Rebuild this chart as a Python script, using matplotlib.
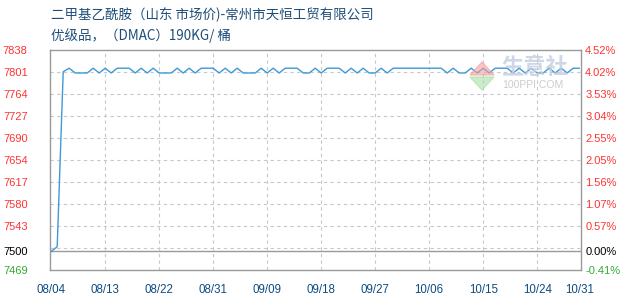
import matplotlib

matplotlib.use("Agg")
import matplotlib.pyplot as plt
import numpy as np

# daily price, 08/04 .. 10/31 (yuan/ton)
HI, LO = 7807, 7799
prices = [7500, 7508, 7801,
          HI, LO, LO, LO, HI, LO, HI, LO, HI, HI, HI, LO, HI, LO, HI, LO, LO, LO,
          HI, LO, HI, LO, HI, HI, HI, LO, HI, LO, HI, LO, LO, LO, HI, LO, HI, LO,
          HI, HI, HI, LO, LO, HI, LO, HI, HI, HI, LO, HI, LO, HI, LO, LO, HI, LO,
          HI, HI, HI, HI, HI, HI, HI, HI, HI, LO, HI, LO, LO, HI, LO, HI, LO, HI,
          HI, HI, LO, HI, LO, HI, LO, LO, HI, LO, HI, LO, HI, HI]

date_labels = ["08/04", "08/13", "08/22", "08/31", "09/09", "09/18",
               "09/27", "10/06", "10/15", "10/24", "10/31"]
date_idx = [0, 9, 18, 27, 36, 45, 54, 63, 72, 81, 88]

y_labels = ["7838", "7801", "7764", "7727", "7690", "7654", "7617", "7580", "7543", "7500", "7469"]
pct_labels = ["4.52%", "4.02%", "3.53%", "3.04%", "2.55%", "2.05%", "1.56%", "1.07%", "0.57%", "0.00%", "-0.41%"]
label_colors = ["#ff3333"] * 9 + ["#000000", "#33aa33"]

Y_MIN, Y_MAX, BASE = 7469, 7838, 7500

title1 = "二甲基乙酰胺（山东 市场价)-常州市天恒工贸有限公司"
title2 = "优级品，（DMAC）190KG/ 桶"

cjk = ["Noto Sans CJK SC", "DejaVu Sans"]
num_font = "Liberation Sans"

fig = plt.figure(figsize=(6.3, 3.0), dpi=100)
ax = fig.add_axes([50 / 630, 30 / 300, 531 / 630, 220.3 / 300])

x = np.arange(len(prices))
ax.plot(x, prices, color="#3d9ad6", lw=1.0, zorder=3)

ax.set_xlim(-0.2, 88.3)
ax.set_ylim(Y_MIN, Y_MAX)

# dashed grid
grid_y = np.linspace(Y_MIN, Y_MAX, 11)[1:-1]
for gy in grid_y:
    ax.axhline(gy, color="#c8c8c8", lw=0.8, ls=(0, (3, 3)), zorder=1)
for gx in date_idx[1:-1]:
    ax.axvline(gx, color="#c8c8c8", lw=0.8, ls=(0, (3, 3)), zorder=1)
ax.axhline(BASE, color="#999999", lw=1.0, zorder=2)

for s in ax.spines.values():
    s.set_color("#999999")
    s.set_linewidth(1.0)

tick_vals = [Y_MAX] + list(grid_y[::-1][:8]) + [BASE, Y_MIN]
ax.set_yticks(tick_vals)
ax.set_yticklabels(y_labels, fontfamily=num_font, fontsize=8)
for t, c in zip(ax.get_yticklabels(), label_colors):
    t.set_color(c)
ax.tick_params(axis="y", length=0, pad=16)

ax.set_xticks(date_idx)
ax.set_xticklabels(date_labels, fontfamily=num_font, fontsize=8.3, color="#0f4c81")
ax.tick_params(axis="x", length=0, pad=10)

ax2 = ax.twinx()
ax2.set_ylim(Y_MIN, Y_MAX)
ax2.set_yticks(tick_vals)
ax2.set_yticklabels(pct_labels, fontfamily=num_font, fontsize=8)
for t, c in zip(ax2.get_yticklabels(), label_colors):
    t.set_color(c)
ax2.tick_params(axis="y", length=0, pad=3)
for s in ax2.spines.values():
    s.set_visible(False)

# titles
fig.text(51 / 630, 1 - 15 / 300, title1, family=cjk, fontsize=9.7, color="#1e4e79", va="center")
fig.text(51 / 630, 1 - 35.5 / 300, title2, family=cjk, fontsize=9.7, color="#1e4e79", va="center")

# faint watermark
fig.text(535 / 630, 1 - 67 / 300, "生意社", family=cjk, fontsize=16, color="#c4cde2",
         alpha=0.8, ha="center", va="center", fontweight="bold")
fig.text(533 / 630, 1 - 85 / 300, "100PPI.COM", family=num_font, fontsize=7.5, color="#cccccc",
         ha="center", va="center")
fig.patches.append(plt.Polygon([[470 / 630, 1 - 75 / 300], [482 / 630, 1 - 62 / 300],
                                [494 / 630, 1 - 75 / 300]], closed=True, transform=fig.transFigure,
                               color="#f4a0a0", alpha=0.6, zorder=5))
fig.patches.append(plt.Polygon([[470 / 630, 1 - 77 / 300], [482 / 630, 1 - 90 / 300],
                                [494 / 630, 1 - 77 / 300]], closed=True, transform=fig.transFigure,
                               color="#a8e0a8", alpha=0.6, zorder=5))

fig.savefig("out.png", dpi=100)
